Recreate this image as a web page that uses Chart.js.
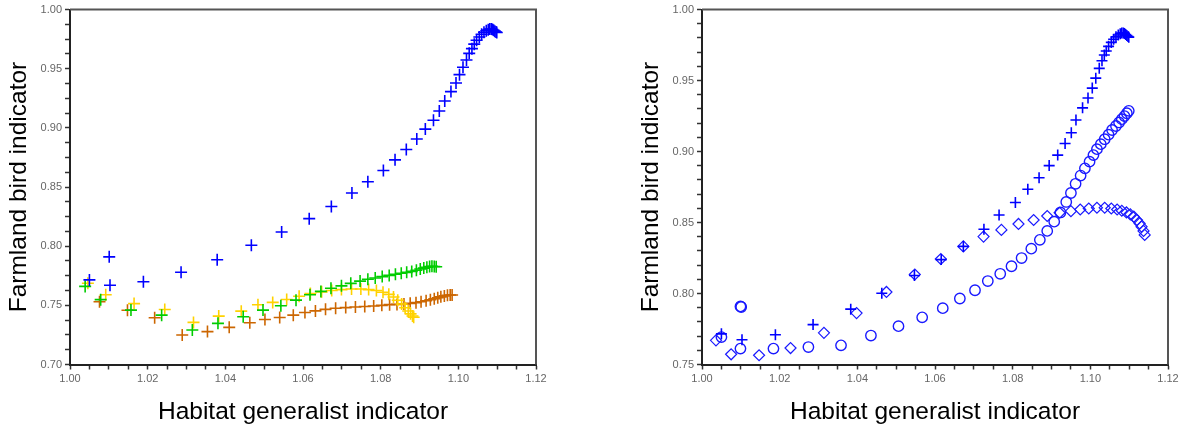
<!DOCTYPE html>
<html>
<head>
<meta charset="utf-8">
<script src="https://cdn.jsdelivr.net/npm/chart.js@4.4.1/dist/chart.umd.min.js"></script>
<style>
    html, body { margin: 0; padding: 0; background: #fff; overflow: hidden; }
    body { width: 1181px; height: 430px; position: relative; }
    canvas { position: absolute; top: 0; }
    #leftChart { left: 0; }
    #rightChart { left: 632px; }
</style>
</head>
<body>
<canvas id="leftChart" width="590" height="430"></canvas>
<canvas id="rightChart" width="590" height="430"></canvas>
<script>
// Tick labels (major ticks); minor ticks are spread between them
const xTickLabels = ['1.00', '1.02', '1.04', '1.06', '1.08', '1.10', '1.12'];
const leftYTickLabels = ['0.70', '0.75', '0.80', '0.85', '0.90', '0.95', '1.00'];
const rightYTickLabels = ['0.75', '0.80', '0.85', '0.90', '0.95', '1.00'];

// Blue scenario (plus markers, left panel)
const blueX = [1.0050, 1.0101, 1.0103, 1.0189, 1.0286, 1.0379, 1.0467, 1.0545, 1.0616, 1.0673,
    1.0726, 1.0767, 1.0807, 1.0837, 1.0866, 1.0893, 1.0915, 1.0936, 1.0951, 1.0965,
    1.0981, 1.0994, 1.1003, 1.1012, 1.1021, 1.1028, 1.1035, 1.1041, 1.1047, 1.1054,
    1.1060, 1.1066, 1.1072, 1.1077, 1.1081, 1.1085, 1.1088, 1.1091, 1.1094, 1.1097, 1.1099];
const blueY = [0.7715, 0.7910, 0.7670, 0.7700, 0.7780, 0.7885, 0.8008, 0.8120, 0.8233, 0.8336,
    0.8450, 0.8545, 0.8640, 0.8730, 0.8817, 0.8906, 0.8990, 0.9065, 0.9143, 0.9227,
    0.9307, 0.9380, 0.9450, 0.9513, 0.9574, 0.9630, 0.9670, 0.9708, 0.9741, 0.9769,
    0.9791, 0.9808, 0.9821, 0.9830, 0.9835, 0.9836, 0.9832, 0.9825, 0.9818, 0.9811, 0.9806];

// Plus markers on the right panel
const plusX = [1.0050, 1.0103, 1.0189, 1.0286, 1.0383, 1.0463, 1.0547, 1.0616, 1.0673,
    1.0726, 1.0765, 1.0807, 1.0839, 1.0868, 1.0894, 1.0916, 1.0935, 1.0951, 1.0963,
    1.0980, 1.0994, 1.1005, 1.1014, 1.1023, 1.1030, 1.1036, 1.1041, 1.1047, 1.1054,
    1.1060, 1.1066, 1.1072, 1.1077, 1.1081, 1.1085, 1.1088, 1.1091, 1.1094, 1.1097, 1.1099];
const plusY = [0.7716, 0.7674, 0.7710, 0.7781, 0.7890, 0.8002, 0.8127, 0.8239, 0.8332,
    0.8453, 0.8553, 0.8641, 0.8734, 0.8815, 0.8901, 0.8975, 0.9057, 0.9133, 0.9222,
    0.9308, 0.9377, 0.9447, 0.9517, 0.9586, 0.9640, 0.9680, 0.9708, 0.9741, 0.9769,
    0.9791, 0.9808, 0.9821, 0.9830, 0.9835, 0.9836, 0.9832, 0.9825, 0.9818, 0.9811, 0.9806];

// Green scenario
const greenX = [1.0039, 1.0079, 1.0157, 1.0236, 1.0315, 1.0381, 1.0446, 1.0497, 1.0543, 1.0582,
    1.0618, 1.0646, 1.0672, 1.0699, 1.0723, 1.0747, 1.0767, 1.0786, 1.0804, 1.0822,
    1.0838, 1.0853, 1.0867, 1.0880, 1.0892, 1.0902, 1.0911, 1.0919, 1.0926, 1.0932, 1.0938, 1.0943];
const greenY = [0.7660, 0.7548, 0.7460, 0.7417, 0.7292, 0.7348, 0.7404, 0.7460, 0.7496, 0.7544,
    0.7590, 0.7618, 0.7644, 0.7665, 0.7686, 0.7705, 0.7720, 0.7731, 0.7743, 0.7753,
    0.7763, 0.7771, 0.7779, 0.7787, 0.7797, 0.7807, 0.7815, 0.7822, 0.7828, 0.7830, 0.7828, 0.7826];

// Yellow scenario
const yellowX = [1.0046, 1.0092, 1.0165, 1.0244, 1.0318, 1.0383, 1.0441, 1.0484, 1.0522, 1.0558,
    1.0590, 1.0619, 1.0648, 1.0674, 1.0699, 1.0725, 1.0749, 1.0769, 1.0789, 1.0806,
    1.0821, 1.0833, 1.0844, 1.0854, 1.0863, 1.0871, 1.0877, 1.0882, 1.0885];
const yellowY = [0.7687, 0.7590, 0.7515, 0.7465, 0.7356, 0.7409, 0.7451, 0.7505, 0.7525, 0.7550,
    0.7577, 0.7600, 0.7614, 0.7625, 0.7633, 0.7638, 0.7638, 0.7633, 0.7625, 0.7611,
    0.7593, 0.7570, 0.7543, 0.7512, 0.7480, 0.7452, 0.7428, 0.7410, 0.7400];

// Brown scenario
const brownX = [1.0076, 1.0148, 1.0218, 1.0289, 1.0354, 1.0410, 1.0463, 1.0502, 1.0540, 1.0575,
    1.0605, 1.0632, 1.0658, 1.0684, 1.0710, 1.0735, 1.0759, 1.0782, 1.0803, 1.0823,
    1.0842, 1.0860, 1.0876, 1.0891, 1.0904, 1.0917, 1.0928, 1.0938, 1.0947, 1.0955,
    1.0964, 1.0972, 1.0979, 1.0984];
const brownY = [0.7530, 0.7459, 0.7395, 0.7250, 0.7278, 0.7314, 0.7353, 0.7380, 0.7397, 0.7417,
    0.7439, 0.7453, 0.7466, 0.7475, 0.7481, 0.7486, 0.7490, 0.7494, 0.7500, 0.7506,
    0.7508, 0.7511, 0.7517, 0.7523, 0.7531, 0.7539, 0.7547, 0.7556, 0.7564, 0.7572,
    0.7580, 0.7586, 0.7588, 0.7588];

// Circle scenario (right panel)
const circleX = [1.0050, 1.0099, 1.0101, 1.0099, 1.0184, 1.0274, 1.0358, 1.0435, 1.0506, 1.0567, 1.0620,
    1.0664, 1.0703, 1.0736, 1.0768, 1.0797, 1.0823, 1.0848, 1.0870, 1.0889, 1.0907,
    1.0923, 1.0938, 1.0950, 1.0962, 1.0975, 1.0986, 1.0998, 1.1008, 1.1017, 1.1027,
    1.1037, 1.1047, 1.1056, 1.1066, 1.1074, 1.1081, 1.1088, 1.1094, 1.1099];
const circleY = [0.7693, 0.7909, 0.7905, 0.7612, 0.7612, 0.7623, 0.7635, 0.7704, 0.7770, 0.7832, 0.7897,
    0.7965, 0.8023, 0.8088, 0.8139, 0.8192, 0.8250, 0.8316, 0.8378, 0.8441, 0.8506,
    0.8571, 0.8645, 0.8708, 0.8773, 0.8831, 0.8882, 0.8929, 0.8975, 0.9017, 0.9052,
    0.9087, 0.9119, 0.9152, 0.9180, 0.9205, 0.9228, 0.9250, 0.9270, 0.9287];

// Diamond scenario (right panel)
const diamondX = [1.0036, 1.0075, 1.0147, 1.0228, 1.0314, 1.0398, 1.0475, 1.0548, 1.0615, 1.0673,
    1.0725, 1.0771, 1.0815, 1.0854, 1.0889, 1.0921, 1.0950, 1.0974, 1.0996, 1.1017,
    1.1037, 1.1054, 1.1069, 1.1081, 1.1093, 1.1103, 1.1112, 1.1120, 1.1127, 1.1132,
    1.1137, 1.1140];
const diamondY = [0.7670, 0.7572, 0.7565, 0.7616, 0.7723, 0.7862, 0.8011, 0.8134, 0.8243, 0.8332,
    0.8401, 0.8448, 0.8490, 0.8518, 0.8546, 0.8569, 0.8580, 0.8592, 0.8599, 0.8604,
    0.8604, 0.8599, 0.8592, 0.8583, 0.8571, 0.8557, 0.8541, 0.8518, 0.8494, 0.8471,
    0.8441, 0.8413];

function toPoints(xs, ys) {
    return xs.map((x, i) => ({ x: x, y: ys[i] }));
}

// Major ticks from the label list, with evenly spaced minor ticks in between
function buildTicks(labels, minorPerMajor) {
    const majors = labels.map(Number);
    const ticks = [];
    for (let i = 0; i < majors.length - 1; i++) {
        const step = (majors[i + 1] - majors[i]) / minorPerMajor;
        for (let j = 0; j < minorPerMajor; j++) {
            ticks.push({ value: majors[i] + step * j });
        }
    }
    ticks.push({ value: majors[majors.length - 1] });
    return ticks;
}

function labelFor(labels) {
    return function(value) {
        const hit = labels.find(l => Math.abs(Number(l) - value) < 1e-6);
        return hit || '';
    };
}

// Grey frame on the top and right of the plot area
const framePlugin = {
    id: 'frame',
    beforeDatasetsDraw(chart) {
        const { ctx, chartArea } = chart;
        ctx.save();
        ctx.strokeStyle = '#555';
        ctx.lineWidth = 2;
        ctx.beginPath();
        ctx.moveTo(chartArea.left, chartArea.top);
        ctx.lineTo(chartArea.right, chartArea.top);
        ctx.lineTo(chartArea.right, chartArea.bottom);
        ctx.stroke();
        ctx.restore();
    }
};

const titleFont = { family: 'Arial, "Liberation Sans", sans-serif', size: 24.5 };
const tickFont = { family: 'Arial, "Liberation Sans", sans-serif', size: 11 };

function axisOptions(min, max, labels, minorPerMajor, isX) {
    return {
        type: 'linear',
        position: isX ? 'bottom' : 'left',
        min: min,
        max: max,
        afterBuildTicks: scale => { scale.ticks = buildTicks(labels, minorPerMajor); },
        afterFit: scale => {
            if (isX) scale.height = 65.5;
            else scale.width = 70;
        },
        grid: {
            drawOnChartArea: false,
            drawTicks: true,
            tickLength: 5,
            tickWidth: 1.5,
            tickColor: '#333'
        },
        border: { display: true, color: '#222', width: 2 },
        ticks: {
            autoSkip: false,
            maxRotation: 0,
            padding: 3,
            color: '#666',
            font: tickFont,
            callback: labelFor(labels)
        },
        title: {
            display: true,
            text: isX ? 'Habitat generalist indicator' : 'Farmland bird indicator',
            color: '#000',
            font: titleFont,
            padding: isX ? { top: 0, bottom: 3 } : { top: 5, bottom: 0 }
        }
    };
}

function baseOptions(yMin, yLabels, yMinor) {
    return {
        responsive: false,
        animation: false,
        events: [],
        layout: { padding: { left: 0, right: 54, top: 6, bottom: 0 } },
        plugins: {
            legend: { display: false },
            tooltip: { enabled: false }
        },
        scales: {
            x: axisOptions(1.00, 1.12, xTickLabels, 4, true),
            y: axisOptions(yMin, 1.00, yLabels, yMinor, false)
        }
    };
}

function plusSet(xs, ys, color, radius) {
    return {
        data: toPoints(xs, ys),
        pointStyle: 'cross',
        pointRadius: radius,
        borderColor: color,
        backgroundColor: color,
        pointBorderWidth: 1.6
    };
}

// Four scenarios on the left panel
function initLeftChart() {
    const ctx = document.getElementById('leftChart');
    new Chart(ctx, {
        type: 'scatter',
        data: {
            datasets: [
                plusSet(blueX, blueY, '#0000ff', 6),
                plusSet(greenX, greenY, '#00cc00', 6),
                plusSet(yellowX, yellowY, '#ffd200', 6),
                plusSet(brownX, brownY, '#cc6600', 6)
            ]
        },
        options: baseOptions(0.70, leftYTickLabels, 4),
        plugins: [framePlugin]
    });
}

// Plus scenario compared with the circle and diamond variants
function initRightChart() {
    const ctx = document.getElementById('rightChart');
    new Chart(ctx, {
        type: 'scatter',
        data: {
            datasets: [
                plusSet(plusX, plusY, '#0000ff', 5.5),
                {
                    data: toPoints(circleX, circleY),
                    pointStyle: 'circle',
                    pointRadius: 5.2,
                    borderColor: '#1a1aff',
                    backgroundColor: 'rgba(0,0,0,0)',
                    pointBorderWidth: 1.4
                },
                {
                    data: toPoints(diamondX, diamondY),
                    pointStyle: 'rectRot',
                    pointRadius: 5.5,
                    borderColor: '#1a1aff',
                    backgroundColor: 'rgba(0,0,0,0)',
                    pointBorderWidth: 1.2
                }
            ]
        },
        options: baseOptions(0.75, rightYTickLabels, 5),
        plugins: [framePlugin]
    });
}

document.addEventListener('DOMContentLoaded', function() {
    initLeftChart();
    initRightChart();
});
</script>
</body>
</html>
